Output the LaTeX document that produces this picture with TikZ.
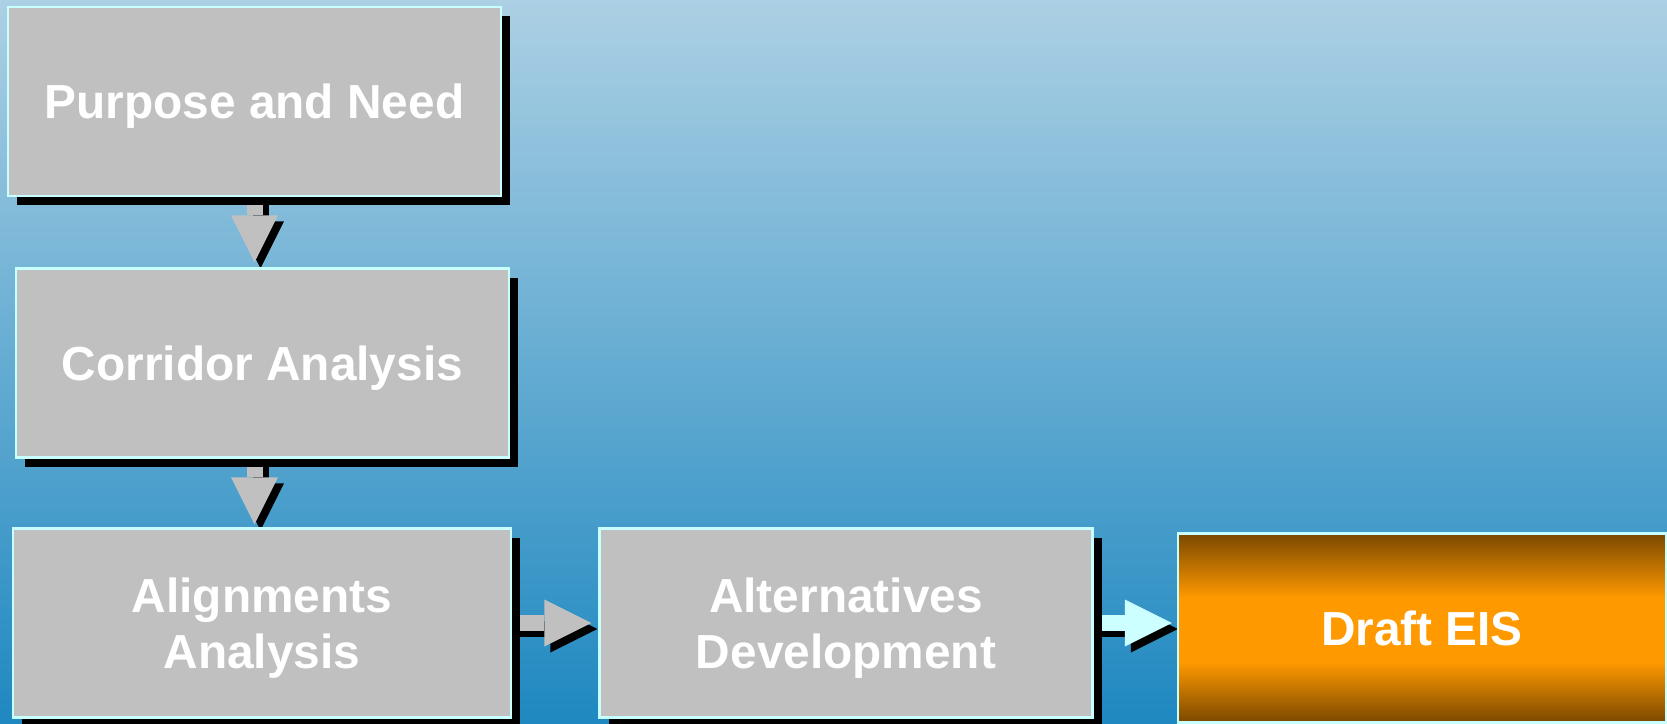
\documentclass[tikz,border=0pt]{standalone}
\usepackage{fontspec}
\setmainfont{Liberation Sans}
\usetikzlibrary{
    positioning,
    arrows.meta,
    calc,
    shadows,
}
\definecolor{bgtop}{RGB}{172,208,228}
\definecolor{bgmid}{RGB}{110,177,213}
\definecolor{bgbottom}{RGB}{30,136,192}
\definecolor{boxgray}{RGB}{192,192,192}
\definecolor{boxline}{RGB}{200,255,255}
\definecolor{arrowcyan}{RGB}{204,255,255}
\definecolor{eisbrown}{RGB}{122,72,0}
\definecolor{eisorange}{RGB}{255,153,0}
\pgfdeclarelayer{backdrop}
\pgfdeclarelayer{arrowlayer}
\pgfsetlayers{backdrop,arrowlayer,main}
\pgfdeclareverticalshading{eisshade}{100bp}{color(0bp)=(eisbrown); color(25bp)=(eisbrown);
    color(41bp)=(eisorange); color(58bp)=(eisorange); color(75bp)=(eisbrown); color(100bp)=(eisbrown)}
\tikzset{
    % Stage boxes
    stage/.style={rectangle, draw=boxline, line width=0.6pt, fill=boxgray,
                  minimum width=4.93cm, minimum height=1.89cm, inner sep=0pt, text depth=0pt,
                  text=white, align=center, font=\fontsize{13.6}{16}\selectfont\bfseries,
                  drop shadow={shadow xshift=0.09cm, shadow yshift=-0.09cm, fill=black, opacity=1}},
    final stage/.style={stage, shading=eisshade},
    % Block arrows
    block arrow/.style={line width=0.16cm, -{Triangle[width=0.47cm, length=0.47cm, line width=0pt]}},
    arrow shadow/.style={block arrow, black, transform canvas={shift={(0.06,-0.06)}}},
}

\begin{document}
\begin{tikzpicture}
    \useasboundingbox (0,0) rectangle (16.67,-7.24);

    % Background
    \begin{pgfonlayer}{backdrop}
        \shade[top color=bgtop, middle color=bgmid, bottom color=bgbottom] (0,0) rectangle (16.67,-7.24);
    \end{pgfonlayer}

    % Stages
    \node[stage] (need) at (2.545, -1.015) {Purpose and Need};
    \node[stage] (corridor) at (2.625, -3.63) {Corridor Analysis};
    \node[stage, minimum width=4.98cm] (align) at (2.62, -6.23) {Alignments\\Analysis};
    \node[stage] (altern) at (8.46, -6.23) {Alternatives\\Development};
    \node[final stage, minimum width=4.88cm] (eis) at (14.22, -6.28) {Draft EIS};

    % Arrows
    \begin{pgfonlayer}{arrowlayer}
        \draw[arrow shadow] (need.south) -- ($(need.south |- corridor.north)+(0,0.05)$);
        \draw[block arrow, boxgray] (need.south) -- ($(need.south |- corridor.north)+(0,0.05)$);
        \draw[arrow shadow] (corridor.south -| need.south) -- ($(need.south |- align.north)+(0,0.03)$);
        \draw[block arrow, boxgray] (corridor.south -| need.south) -- ($(need.south |- align.north)+(0,0.03)$);
        \draw[arrow shadow] (align.east) -- ($(align.east -| altern.west)+(-0.07,0)$);
        \draw[block arrow, boxgray] (align.east) -- ($(align.east -| altern.west)+(-0.07,0)$);
        \draw[arrow shadow] (altern.east) -- ($(altern.east -| eis.west)+(-0.05,0)$);
        \draw[block arrow, arrowcyan] (altern.east) -- ($(altern.east -| eis.west)+(-0.05,0)$);
    \end{pgfonlayer}
\end{tikzpicture}
\end{document}
